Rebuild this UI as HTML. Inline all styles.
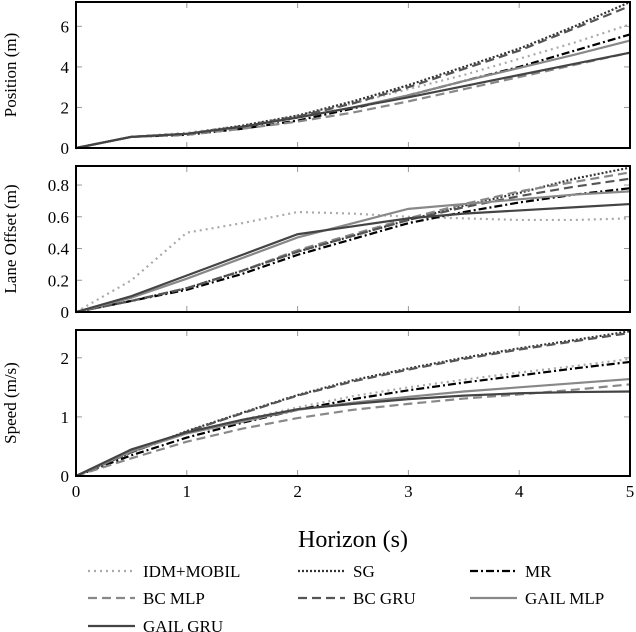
<!DOCTYPE html>
<html><head><meta charset="utf-8"><style>
body{margin:0;background:#fff;}
svg{display:block;font-family:"Liberation Serif",serif;}
</style></head><body>
<svg id="c" width="636" height="632" viewBox="0 0 636 632"></svg>
<script>
const xs=[0,0.5,1,1.5,2,2.5,3,3.5,4,4.5,5];
const seriesNames=["IDM+MOBIL","SG","MR","BC MLP","BC GRU","GAIL MLP","GAIL GRU"];
const posIDM=[0,0.55,0.75,1.1,1.6,2.2,2.9,3.6,4.4,5.2,6.1];
const posSG=[0,0.55,0.7,1.1,1.6,2.3,3.1,4.0,4.9,6.0,7.2];
const posMR=[0,0.55,0.65,0.95,1.35,1.95,2.6,3.3,4.0,4.8,5.6];
const posBCMLP=[0,0.55,0.65,0.95,1.3,1.75,2.3,2.9,3.5,4.1,4.7];
const posBCGRU=[0,0.55,0.7,1.05,1.55,2.2,3.0,3.9,4.8,5.9,7.0];
const posGAILMLP=[0,0.55,0.7,1.05,1.5,2.0,2.6,3.3,3.95,4.6,5.3];
const posGAILGRU=[0,0.55,0.7,1.05,1.5,2.0,2.5,3.05,3.6,4.15,4.7];
const laneIDM=[0,0.2,0.5,0.56,0.63,0.62,0.6,0.59,0.58,0.58,0.59];
const laneSG=[0,0.07,0.15,0.26,0.38,0.48,0.58,0.67,0.75,0.84,0.91];
const laneMR=[0,0.07,0.14,0.24,0.36,0.46,0.56,0.63,0.69,0.74,0.78];
const laneBCMLP=[0,0.07,0.15,0.26,0.39,0.49,0.59,0.68,0.76,0.82,0.88];
const laneBCGRU=[0,0.07,0.15,0.26,0.38,0.48,0.58,0.66,0.73,0.79,0.84];
const laneGAILMLP=[0,0.09,0.21,0.34,0.47,0.56,0.65,0.68,0.71,0.74,0.76];
const laneGAILGRU=[0,0.1,0.23,0.36,0.49,0.54,0.59,0.62,0.64,0.66,0.68];
const spdIDM=[0,0.4,0.73,0.95,1.16,1.35,1.5,1.63,1.75,1.86,1.98];
const spdSG=[0,0.4,0.76,1.07,1.37,1.62,1.82,2.0,2.16,2.3,2.45];
const spdMR=[0,0.35,0.65,0.9,1.12,1.3,1.45,1.58,1.7,1.82,1.93];
const spdBCMLP=[0,0.3,0.58,0.8,0.98,1.12,1.22,1.31,1.38,1.46,1.55];
const spdBCGRU=[0,0.4,0.75,1.06,1.36,1.6,1.8,1.98,2.14,2.28,2.42];
const spdGAILMLP=[0,0.42,0.72,0.92,1.12,1.24,1.34,1.43,1.5,1.57,1.64];
const spdGAILGRU=[0,0.45,0.74,0.95,1.13,1.22,1.3,1.36,1.4,1.42,1.43];
const xTicks=[0,1,2,3,4,5];
const posTicks=[0,2,4,6];
const laneTicks=[0,0.2,0.4,0.6,0.8];
const spdTicks=[0,1,2];

const styles=[
 {c:"#aaa",d:"2,4"},{c:"#333",d:"2,2"},{c:"#000",d:"8,3,2,3"},
 {c:"#888",d:"9,5"},{c:"#555",d:"9,5"},{c:"#888",d:""},{c:"#444",d:""}];
const svg=document.getElementById('c');
const NS="http://www.w3.org/2000/svg";
function mk(t,a,p){const e=document.createElementNS(NS,t);for(const k in a)e.setAttribute(k,a[k]);(p||svg).appendChild(e);return e;}
const X0=76,X1=630;
const xS=v=>X0+(X1-X0)*v/5;
const panels=[
 {name:"position",top:2,bot:148,max:7.2,ticks:posTicks,title:"Position (m)",data:[posIDM,posSG,posMR,posBCMLP,posBCGRU,posGAILMLP,posGAILGRU],fmt:v=>String(v)},
 {name:"lane-offset",top:166,bot:312,max:0.92,ticks:laneTicks,title:"Lane Offset (m)",data:[laneIDM,laneSG,laneMR,laneBCMLP,laneBCGRU,laneGAILMLP,laneGAILGRU],fmt:v=>v===0?"0":v.toFixed(1)},
 {name:"speed",top:330,bot:476,max:2.47,ticks:spdTicks,title:"Speed (m/s)",data:[spdIDM,spdSG,spdMR,spdBCMLP,spdBCGRU,spdGAILMLP,spdGAILGRU],fmt:v=>String(v)}];
panels.forEach((p,pi)=>{
 const g=mk('g',{});
 
 
 const yS=v=>p.bot-(p.bot-p.top)*v/p.max;
 xTicks.forEach(t=>{const x=xS(t);
  mk('line',{x1:x,x2:x,y1:p.bot,y2:p.bot-6,stroke:'#999','stroke-width':1},g);
  mk('line',{x1:x,x2:x,y1:p.top,y2:p.top+6,stroke:'#999','stroke-width':1},g);});
 p.ticks.forEach(t=>{const y=yS(t);
  mk('line',{x1:X0,x2:X0+6,y1:y,y2:y,stroke:'#999','stroke-width':1},g);
  mk('line',{x1:X1-6,x2:X1,y1:y,y2:y,stroke:'#999','stroke-width':1},g);
  const tl=mk('text',{x:X0-7,y:y+6,'text-anchor':'end','font-size':17,fill:'#000'},g);
  tl.textContent=p.fmt(t);
  
  });
 p.data.forEach((arr,si)=>{
  const pts=arr.map((v,i)=>xS(xs[i])+','+yS(v)).join(' ');
  const l=mk('polyline',{points:pts,fill:'none',stroke:styles[si].c,'stroke-width':2.2,'stroke-dasharray':styles[si].d},g);
  
  });
 mk('rect',{x:X0,y:p.top,width:X1-X0,height:p.bot-p.top,fill:'none',stroke:'#000','stroke-width':2},g);
 const cy=(p.top+p.bot)/2;
 const tt=mk('text',{x:0,y:0,transform:`translate(16,${cy}) rotate(-90)`,'text-anchor':'middle','font-size':17},g);
 tt.textContent=p.title;
 
 
 if(pi===2){xTicks.forEach(t=>{const tl=mk('text',{x:xS(t),y:p.bot+21,'text-anchor':'middle','font-size':17},g);tl.textContent=t;
  
  });}
});
const xt=mk('text',{x:353,y:547,'text-anchor':'middle','font-size':24});
xt.textContent="Horizon (s)";


const legPos=[[88,571],[298,571],[470,571],[88,598],[298,598],[470,598],[88,626]];
seriesNames.forEach((n,i)=>{
 const g=mk('g',{});
 
 
 const [x,y]=legPos[i];
 mk('line',{x1:x,x2:x+47,y1:y,y2:y,stroke:styles[i].c,'stroke-width':2.2,'stroke-dasharray':styles[i].d},g);
 const t=mk('text',{x:x+55,y:y+6,'font-size':17},g);t.textContent=n;
});
</script>
</body></html>
